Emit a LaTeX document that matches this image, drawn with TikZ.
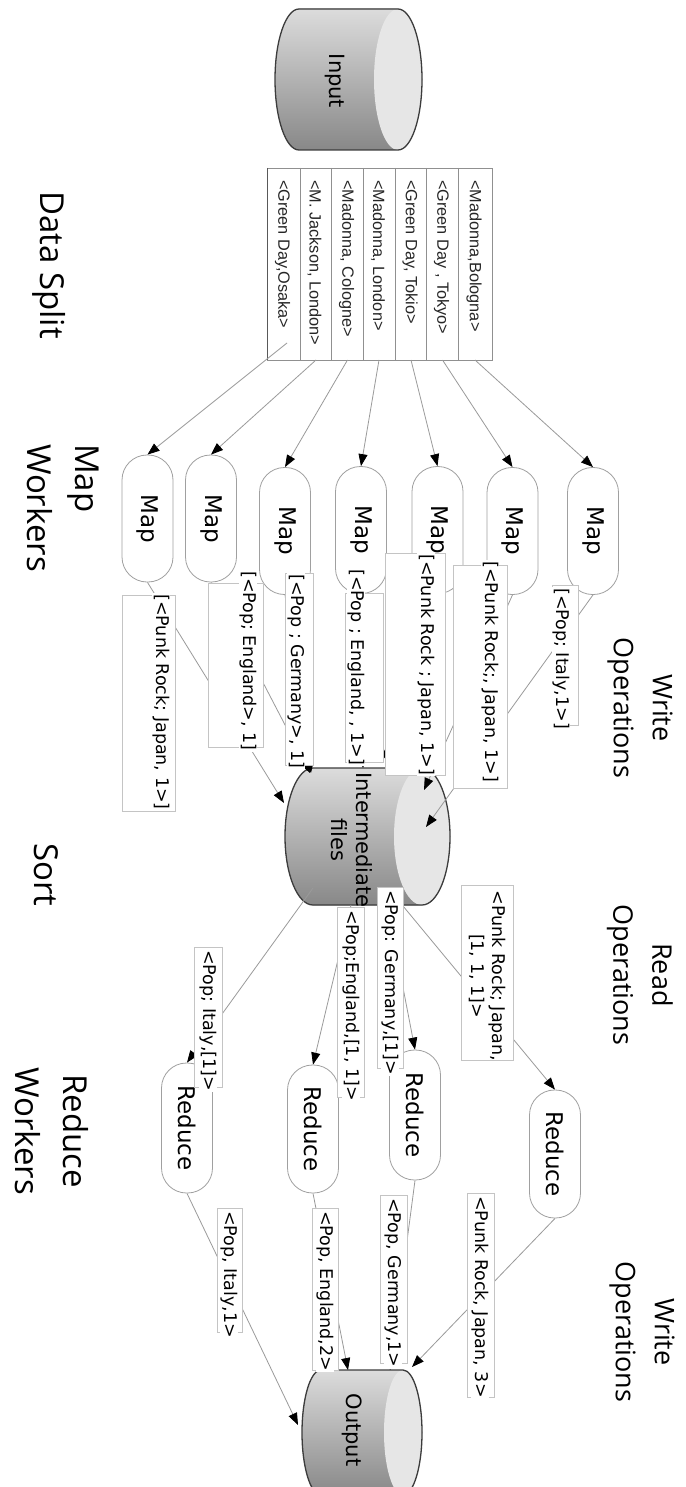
\documentclass[tikz,border=0pt]{standalone}
\usepackage{fontspec}
\usetikzlibrary{arrows.meta}
\newfontfamily\dvfont{DejaVu Sans}
\newfontfamily\libfont{Liberation Sans}
\newfontfamily\osfont{Open Sans}
\definecolor{lineg}{HTML}{9A9A9A}
\definecolor{boxg}{HTML}{C4C4C4}
\definecolor{nodeg}{HTML}{A0A0A0}
\definecolor{tabg}{HTML}{909090}
\definecolor{cyltop}{HTML}{DCDCDC}
\definecolor{cylbot}{HTML}{888888}
\definecolor{cylface}{HTML}{E6E6E6}
\definecolor{cylline}{HTML}{3C3C3C}
\newcommand{\drawcyl}[5]{%
  \pgfmathsetmacro\cyh{((#4)-(#2))/2}%
  \pgfmathsetmacro\cyc{((#4)+(#2))/2}%
  \pgfmathsetmacro\cxa{(#1)+(#5)}%
  \pgfmathsetmacro\cxb{(#3)-(#5)}%
  \fill[top color=cyltop, bottom color=cylbot] (\cxa,#2) -- (\cxb,#2)
     arc[start angle=90,end angle=-90,x radius=#5pt,y radius=\cyh pt] -- (\cxa,#4)
     arc[start angle=270,end angle=90,x radius=#5pt,y radius=\cyh pt] -- cycle;
  \fill[cylface] (\cxb,\cyc) ellipse[x radius=#5pt,y radius=\cyh pt];
  \draw[cylline, line width=1.3pt] (\cxa,#2) -- (\cxb,#2)
     arc[start angle=90,end angle=-90,x radius=#5pt,y radius=\cyh pt] -- (\cxa,#4)
     arc[start angle=270,end angle=90,x radius=#5pt,y radius=\cyh pt] -- cycle;
}
\tikzset{
  proc/.style={draw=nodeg, fill=white, line width=0.8pt, rounded corners=25pt, rotate=-90,
    minimum width=127pt, minimum height=51pt, inner sep=0pt, font=\dvfont\fontsize{23}{27}\selectfont},
  cyltext/.style={rotate=-90, align=center, inner sep=0pt, font=\dvfont\fontsize{21}{25}\selectfont},
  lbox/.style={draw=boxg, fill=white, line width=0.7pt},
  ltext/.style={rotate=-90, anchor=west, inner sep=1pt, fill=white, font=\dvfont\fontsize{17.5}{21}\selectfont},
  coltext/.style={rotate=-90, anchor=west, inner sep=0pt, text=black!85, font=\libfont\fontsize{16.3}{19}\selectfont},
  conn/.style={draw=lineg, line width=0.8pt},
  arr/.style={conn, -{Triangle[length=12pt,width=9pt,black]}},
  bigtitle/.style={rotate=-90, inner sep=0pt, font=\osfont\fontsize{33}{48}\selectfont},
  optitle/.style={rotate=-90, inner sep=0pt, align=center, font=\osfont\fontsize{27}{39}\selectfont},
}
\begin{document}
\begin{tikzpicture}[x=1pt,y=-1pt]
\useasboundingbox (0,0) rectangle (685,1487);
\fill[white] (0,0) rectangle (685,1487);

% titles
\node[bigtitle] (tsplit) at (49,265) {Data Split};
\node[bigtitle, align=left] (tmap) at (63,508) {Map\\Workers};
\node[bigtitle] (tsort) at (46,875) {Sort};
\node[bigtitle, align=center] (tred) at (52,1131) {Reduce\\Workers};
\node[optitle] (twrite1) at (640,708) {Write\\Operations};
\node[optitle] (tread) at (640,975) {Read\\Operations};
\node[optitle] (twrite2) at (642,1332) {Write\\Operations};

% cylinders
\drawcyl{275}{9}{422}{150}{24}
\node[cyltext] (input) at (335,81) {Input};
\drawcyl{285}{768}{450}{905}{28}
\node[cyltext] (inter) at (352,840) {Intermediate\\files};
\drawcyl{302}{1370}{422}{1495}{19}
\node[cyltext] (output) at (352,1430) {Output};

% table
\draw[tabg, line width=0.8pt] (267,168) rectangle (492,360);
\foreach \xx in {300,331.7,363.3,395,426.7,458.3} \draw[tabg, line width=0.8pt] (\xx,168) -- (\xx,360);
\draw[black!65, line width=1.8pt] (267.5,168) -- (267.5,360);
\node[coltext] (c1) at (282.5,180) {<Green Day,Osaka>};
\node[coltext] (c2) at (314.5,180) {<M. Jackson, London>};
\node[coltext] (c3) at (346.5,180) {<Madonna, Cologne>};
\node[coltext] (c4) at (378,180) {<Madonna, London>};
\node[coltext] (c5) at (410,180) {<Green Day, Tokio>};
\node[coltext] (c6) at (441.5,180) {<Green Day , Tokyo>};
\node[coltext] (c7) at (474,180) {<Madonna,Bologna>};

\coordinate (s1) at (287,343);
\coordinate (s2) at (316,360);
\coordinate (s3) at (347.5,360);
\coordinate (s4) at (379,360);
\coordinate (s5) at (411,360);
\coordinate (s6) at (442.5,360);
\coordinate (s7) at (475,360);

% map nodes
\node[proc] (m1) at (147.5,518.5) {Map};
\node[proc] (m2) at (211,518.5) {Map};
\node[proc] (m3) at (285,531) {Map};
\node[proc] (m4) at (361,530) {Map};
\node[proc] (m5) at (437.5,530) {Map};
\node[proc] (m6) at (512.5,531) {Map};
\node[proc] (m7) at (593,531) {Map};

\foreach \i in {1,...,7} \draw[arr] (s\i) -- (m\i.west);

% reduce nodes
\node[proc, minimum width=130pt] (r1) at (187,1128) {Reduce};
\node[proc, minimum width=128pt] (r2) at (313,1129) {Reduce};
\node[proc, minimum width=130pt] (r3) at (415,1115) {Reduce};
\node[proc, minimum width=128pt] (r4) at (555,1154) {Reduce};

% end points on cylinders
\coordinate (i1) at (284,803);
\coordinate (i2) at (310,773);
\coordinate (i3) at (311,773);
\coordinate (i4) at (363,768);
\coordinate (i5) at (381,762);
\coordinate (i6) at (424,790);
\coordinate (i7) at (426,827);
\coordinate (o1) at (313,888);
\coordinate (o2) at (351,905);
\coordinate (o3) at (387,905);
\coordinate (o4) at (403,906);
\coordinate (u1) at (298,1425);
\coordinate (u2) at (348,1370);
\coordinate (u3) at (390,1370);
\coordinate (u4) at (412,1367);

\foreach \i in {1,...,7} \draw[arr] (m\i.east) -- (i\i);
\foreach \i in {1,...,4} \draw[arr] (o\i) -- (r\i.west);
\foreach \i in {1,...,4} \draw[arr] (r\i.east) -- (u\i);

% label boxes (map outputs)
\draw[lbox] (122,595) rectangle (175,811);
\draw[lbox] (208,583) rectangle (263,747);
\draw[lbox] (285,573) rectangle (313,765);
\draw[lbox] (345,593) rectangle (383,762);
\draw[lbox] (385,553) rectangle (445,775);
\draw[lbox] (453,565) rectangle (507,788);
\draw[lbox] (552,585) rectangle (578,725);
\node[ltext] (la) at (161,593) {[<Punk Rock; Japan, 1>]};
\node[ltext] (lb) at (248,570) {[<Pop; England>, 1]};
\node[ltext] (lc) at (296,573) {[<Pop ; Germany>, 1]};
\node[ltext] (ld) at (356,568) {[<Pop ; England, , 1>]};
\node[ltext] (le) at (426,553) {[<Punk Rock ; Japan, 1>]};
\node[ltext] (lf) at (490,560) {[<Punk Rock;, Japan, 1>]};
\node[ltext] (lg) at (561,587) {[<Pop; Italy,1>]};

% label boxes (read)
\draw[lbox] (194,947) rectangle (222,1087);
\draw[lbox] (337,907) rectangle (364,1097);
\draw[lbox] (377,887) rectangle (403,1068);
\draw[lbox] (461,885) rectangle (513,1060);
\node[ltext] (ra) at (208,949) {<Pop; Italy,[1]>};
\node[ltext] (rb) at (351,909) {<Pop;England,[1, 1]>};
\node[ltext] (rc) at (390,889) {<Pop: Germany,[1]>};
\node[ltext, anchor=center, align=center, fill=none] (rd) at (487,976) {<Punk Rock; Japan,\\{[}1, 1, 1]>};

% label boxes (write)
\draw[lbox] (217,1208) rectangle (242,1332);
\draw[lbox] (312,1208) rectangle (338,1370);
\draw[lbox] (380,1195) rectangle (407,1363);
\draw[lbox] (467,1193) rectangle (494,1397);
\node[ltext] (wa) at (229,1210) {<Pop, Italy,1>};
\node[ltext] (wb) at (325,1210) {<Pop, England,2>};
\node[ltext] (wc) at (393,1197) {<Pop, Germany,1>};
\node[ltext] (wd) at (480,1195) {<Punk Rock, Japan, 3>};
\end{tikzpicture}
\end{document}
